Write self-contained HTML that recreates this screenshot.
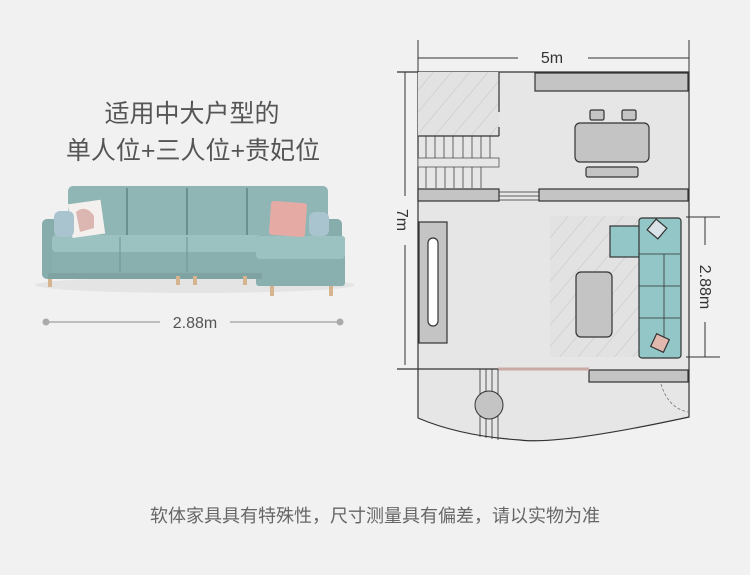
<!DOCTYPE html>
<html><head><meta charset="utf-8"><style>
html,body{margin:0;padding:0;background:#f1f1f1;}
svg{display:block}
text{font-family:"Liberation Sans","Noto Sans CJK SC",sans-serif;}
</style></head><body>
<svg width="750" height="575" viewBox="0 0 750 575" xmlns="http://www.w3.org/2000/svg">
<defs>
<pattern id="h" width="14" height="14" patternUnits="userSpaceOnUse" patternTransform="rotate(40)">
<rect width="14" height="14" fill="#e2e2e2"/><line x1="0" y1="0" x2="0" y2="14" stroke="#c4c4c4" stroke-width="1"/>
</pattern>
</defs>
<rect width="750" height="575" fill="#f1f1f1"/>
<!-- left text -->
<text x="192" y="122" font-size="25" fill="#555" text-anchor="middle">适用中大户型的</text>
<text x="193" y="159" font-size="25" fill="#555" text-anchor="middle">单人位+三人位+贵妃位</text>
<!-- sofa -->
<g>
<ellipse cx="195" cy="285" rx="160" ry="8" fill="#e4e4e4"/>
<rect x="68" y="186" width="260" height="50" rx="5" fill="#8fb5b5"/>
<line x1="127" y1="188" x2="127" y2="236" stroke="#5e8585" stroke-width="1.5"/>
<line x1="187" y1="188" x2="187" y2="236" stroke="#5e8585" stroke-width="1.5"/>
<line x1="247" y1="188" x2="247" y2="236" stroke="#5e8585" stroke-width="1.5"/>
<rect x="42" y="219" width="30" height="60" rx="5" fill="#86acac"/>
<rect x="318" y="219" width="24" height="25" rx="5" fill="#86acac"/>
<rect x="52" y="235" width="210" height="38" fill="#89afaf"/>
<rect x="52" y="235" width="210" height="17" rx="4" fill="#9cc1c1"/>
<line x1="120" y1="237" x2="120" y2="272" stroke="#6e9393"/>
<line x1="187" y1="237" x2="187" y2="272" stroke="#6e9393"/>
<rect x="256" y="236" width="89" height="50" rx="3" fill="#89afaf"/>
<rect x="256" y="236" width="89" height="23" rx="4" fill="#9cc1c1"/>
<rect x="48" y="273" width="214" height="6" fill="#7fa3a3"/>
<rect x="48" y="279" width="4" height="8" fill="#d6b48f"/>
<rect x="176" y="276" width="4" height="9" fill="#d6b48f"/>
<rect x="193" y="276" width="4" height="9" fill="#d6b48f"/>
<rect x="243" y="276" width="4" height="9" fill="#d6b48f"/>
<rect x="270" y="286" width="4" height="10" fill="#d6b48f"/>
<rect x="329" y="286" width="4" height="10" fill="#d6b48f"/>
<rect x="70" y="202" width="33" height="34" fill="#f4f0ee" transform="rotate(-8 86 219)"/>
<path d="M76 212 q10 -8 18 4 l0 12 -14 4z" fill="#dcb6b1"/>
<rect x="54" y="211" width="20" height="26" rx="6" fill="#a9c3cf"/>
<rect x="270" y="202" width="36" height="34" rx="3" fill="#e6aaa5" transform="rotate(4 288 219)"/>
<rect x="309" y="212" width="20" height="24" rx="6" fill="#a9c3cf"/>
</g>
<!-- dimension line left -->
<line x1="46" y1="322" x2="160" y2="322" stroke="#bdbdbd" stroke-width="2"/>
<line x1="230" y1="322" x2="340" y2="322" stroke="#bdbdbd" stroke-width="2"/>
<circle cx="46" cy="322" r="3.5" fill="#aaa"/>
<circle cx="340" cy="322" r="3.5" fill="#aaa"/>
<text x="195" y="328" font-size="16" fill="#555" text-anchor="middle">2.88m</text>
<!-- floor plan -->
<g stroke="#333" stroke-width="1.2">
<path d="M418 72 H689 V417 Q560 445 520 440 Q460 436 418 418 Z" fill="#e6e6e6"/>
<rect x="418" y="72" width="81" height="64" fill="url(#h)" stroke="none"/>
<line x1="499" y1="72" x2="499" y2="112"/><line x1="499" y1="127" x2="499" y2="136"/>
<line x1="418" y1="136" x2="499" y2="136"/>
<rect x="418" y="158" width="81" height="9" fill="#e6e6e6" stroke="#555" stroke-width="0.8"/>
<path d="M426 136V158M435 136V158M444 136V158M453 136V158M463 136V158M472 136V158M481 136V158M490 136V158 M426 167V188M436 167V188M445 167V188M454 167V188M463 167V188M472 167V188M481 167V188" stroke="#444" stroke-width="0.8"/>
<rect x="535" y="73" width="153" height="18" fill="#c4c4c4"/>
<rect x="590" y="110" width="14" height="10" rx="1.5" fill="#c4c4c4"/>
<rect x="622" y="110" width="14" height="10" rx="1.5" fill="#c4c4c4"/>
<rect x="575" y="123" width="74" height="39" rx="5" fill="#c4c4c4"/>
<rect x="586" y="167" width="52" height="10" rx="2" fill="#c4c4c4"/>
<rect x="418" y="189" width="81" height="12" fill="#c4c4c4"/>
<rect x="539" y="189" width="149" height="12" fill="#c4c4c4"/>
<path d="M499 192H539M499 196H539M499 200H539" stroke-width="0.7"/>
<rect x="550" y="216" width="90" height="141" fill="url(#h)" stroke="none"/>
<rect x="419" y="222" width="28" height="121" fill="#c4c4c4"/>
<rect x="428" y="238" width="10" height="88" rx="5" fill="#fff"/>
<rect x="576" y="272" width="36" height="65" rx="5" fill="#c4c4c4"/>
<!-- plan sofa -->
<rect x="610" y="226" width="42" height="31" fill="#93c6c6"/>
<rect x="639" y="218" width="42" height="140" rx="3" fill="#93c6c6"/>
<path d="M664 254H680M664 286H680M664 318H680M664 254V340M639 286H664M639 318H664M639 254H664" stroke-width="0.8"/>
<rect x="650" y="222" width="14" height="14" fill="#d9e2e6" transform="rotate(40 657 229)"/>
<rect x="653" y="336" width="14" height="14" fill="#e2b9ae" transform="rotate(25 660 343)"/>
<rect x="589" y="370" width="99" height="12" fill="#c4c4c4"/>
</g>
<line x1="498" y1="369" x2="589" y2="369" stroke="#c9aaa4" stroke-width="3"/>
<line x1="397" y1="369" x2="498" y2="369" stroke="#333" stroke-width="1.2"/>
<line x1="397" y1="72" x2="418" y2="72" stroke="#333" stroke-width="1.2"/>
<path d="M480 369V437M486 369V438M492 369V439M498 369V440" stroke="#333" stroke-width="0.8"/>
<circle cx="489" cy="405" r="14" fill="#c4c4c4" stroke="#333" stroke-width="1"/>
<path d="M661 384 Q668 408 688 412" fill="none" stroke="#777" stroke-dasharray="3 2" stroke-width="0.8"/>
<!-- dims -->
<g stroke="#333" stroke-width="1">
<line x1="418" y1="40" x2="418" y2="72"/><line x1="689" y1="40" x2="689" y2="90"/>
<line x1="418" y1="58" x2="518" y2="58"/><line x1="588" y1="58" x2="689" y2="58"/>
<line x1="405" y1="72" x2="405" y2="196"/><line x1="405" y1="245" x2="405" y2="365"/>
<line x1="686" y1="217" x2="720" y2="217"/><line x1="686" y1="357" x2="720" y2="357"/>
<line x1="705" y1="217" x2="705" y2="245"/><line x1="705" y1="322" x2="705" y2="357"/>
</g>
<text x="552" y="63" font-size="16" fill="#333" text-anchor="middle">5m</text>
<text transform="translate(397 220) rotate(90)" font-size="16" fill="#333" text-anchor="middle">7m</text>
<text transform="translate(700 287) rotate(90)" font-size="16" fill="#333" text-anchor="middle">2.88m</text>
<text x="375" y="522" font-size="18" fill="#666" text-anchor="middle">软体家具具有特殊性，尺寸测量具有偏差，请以实物为准</text>
</svg>
</body></html>
